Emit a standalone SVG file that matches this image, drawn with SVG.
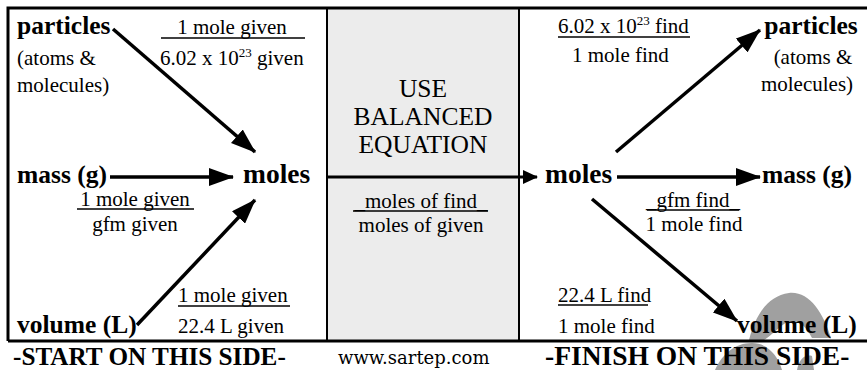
<svg xmlns="http://www.w3.org/2000/svg" width="867" height="370" viewBox="0 0 867 370">
<style>
.b{font-family:"Liberation Serif","Times New Roman",serif;font-weight:bold;font-size:25.5px;fill:#000}
.r{font-family:"Liberation Serif","Times New Roman",serif;font-size:21px;fill:#000}
.c{font-family:"Liberation Serif","Times New Roman",serif;font-size:25.5px;fill:#000}
.w{font-family:"DejaVu Serif",serif;font-size:18px;fill:#000}
.mo{font-size:27.5px}
.sup{font-size:13px}
.u{stroke:#000;stroke-width:1.3}
.a{stroke:#000;stroke-width:3.5;fill:none;marker-end:url(#big)}
.m{stroke:#000;stroke-width:3;fill:none;marker-end:url(#small)}
</style>
<defs>
<marker id="big" markerUnits="userSpaceOnUse" markerWidth="26" markerHeight="18" refX="24" refY="9" orient="auto"><path d="M0,0 L25,9 L0,18 z" fill="#000"/></marker>
<marker id="small" markerUnits="userSpaceOnUse" markerWidth="16" markerHeight="16" refX="14" refY="8" orient="auto"><path d="M0,1 L15,8 L0,15 z" fill="#000"/></marker>
</defs>
<rect width="867" height="370" fill="#fff"/>
<g id="watermark" fill="#a0a0a0">
<path d="M749,340 C755,316 767,296 789,293 C809,291 823,312 831,338 L812,338 C804,322 794,318 784,324 C776,330 768,338 764,340 Z"/>
<path d="M715,370 C722,354 735,343 752,343 C768,343 778,356 782,370 Z"/>
<path d="M797,370 C799,360 804,354 812,356 L814,370 Z"/>
</g>
<g id="center-box">
<rect x="327" y="8" width="192" height="333" fill="#ececec" stroke="#000" stroke-width="2"/>
<text class="c" x="423" y="97" text-anchor="middle">USE</text>
<text class="c" x="423" y="125" text-anchor="middle">BALANCED</text>
<text class="c" x="423" y="153" text-anchor="middle">EQUATION</text>
<text class="r" x="421" y="208" text-anchor="middle">_moles of find_</text>
<line class="u" x1="353" y1="211" x2="488" y2="211"/>
<text class="r" x="421" y="232" text-anchor="middle">moles of given</text>
</g>
<g id="frame" stroke="#000" stroke-width="3" fill="none">
<path d="M8,341 L8,8 L867,8"/>
<path d="M8,341 L867,341"/>
</g>
<g id="particles-given">
<text class="b" x="17" y="34">particles</text>
<text class="r" x="17" y="65">(atoms &amp;</text>
<text class="r" x="17" y="92">molecules)</text>
</g>
<g id="mass-given"><text class="b" x="17" y="183">mass (g)</text></g>
<g id="volume-given"><text class="b" x="17" y="333">volume (L)</text></g>
<g id="moles-given"><text class="b mo" x="243" y="183">moles</text></g>
<g id="moles-find"><text class="b mo" x="545" y="183">moles</text></g>
<g id="particles-find">
<text class="b" x="811" y="34" text-anchor="middle">particles</text>
<text class="r" x="813" y="64" text-anchor="middle">(atoms &amp;</text>
<text class="r" x="807" y="91" text-anchor="middle">molecules)</text>
</g>
<g id="mass-find"><text class="b" x="762" y="183">mass (g)</text></g>
<g id="volume-find"><text class="b" x="737" y="333">volume (L)</text></g>
<g id="labels">
<text class="r" x="232" y="34" text-anchor="middle">1 mole given</text>
<line class="u" x1="161" y1="38" x2="305" y2="38"/>
<text class="r" x="160" y="65"><tspan>6.02 x 10</tspan><tspan class="sup" dy="-8">23</tspan><tspan dy="8"> given</tspan></text>
<text class="r" x="135" y="206" text-anchor="middle">1 mole given</text>
<line class="u" x1="77" y1="209" x2="194" y2="209"/>
<text class="r" x="135" y="231" text-anchor="middle">gfm given</text>
<text class="r" x="178" y="302">1 mole given</text>
<line class="u" x1="178" y1="306" x2="290" y2="306"/>
<text class="r" x="178" y="333">22.4 L given</text>
<text class="r" x="558" y="33"><tspan>6.02 x 10</tspan><tspan class="sup" dy="-8">23</tspan><tspan dy="8"> find</tspan></text>
<line class="u" x1="558" y1="37" x2="690" y2="37"/>
<text class="r" x="572" y="62">1 mole find</text>
<text class="r" x="693" y="207" text-anchor="middle">_gfm find_</text>
<line class="u" x1="647" y1="210" x2="739" y2="210"/>
<text class="r" x="694" y="231" text-anchor="middle">1 mole find</text>
<text class="r" x="558" y="302">22.4 L find</text>
<line class="u" x1="558" y1="305" x2="648" y2="305"/>
<text class="r" x="558" y="333">1 mole find</text>
</g>
<g id="connectors">
<line class="a" x1="113" y1="29" x2="255" y2="152"/>
<line class="a" x1="110" y1="177" x2="233" y2="177"/>
<line class="a" x1="137" y1="325" x2="255" y2="200"/>
<line class="m" x1="327" y1="177" x2="537" y2="177"/>
<line class="a" x1="617" y1="177" x2="760" y2="177"/>
<line class="a" x1="616" y1="152" x2="760" y2="30"/>
<line class="a" x1="592" y1="199" x2="737" y2="321"/>
</g>
<g id="footer">
<text class="b" x="13" y="365" style="font-size:25.2px">-START ON THIS SIDE-</text>
<text class="w" x="338" y="364">www.sartep.com</text>
<text class="b" x="545" y="365" style="font-size:27.5px">-FINISH ON THIS SIDE-</text>
</g>
</svg>
